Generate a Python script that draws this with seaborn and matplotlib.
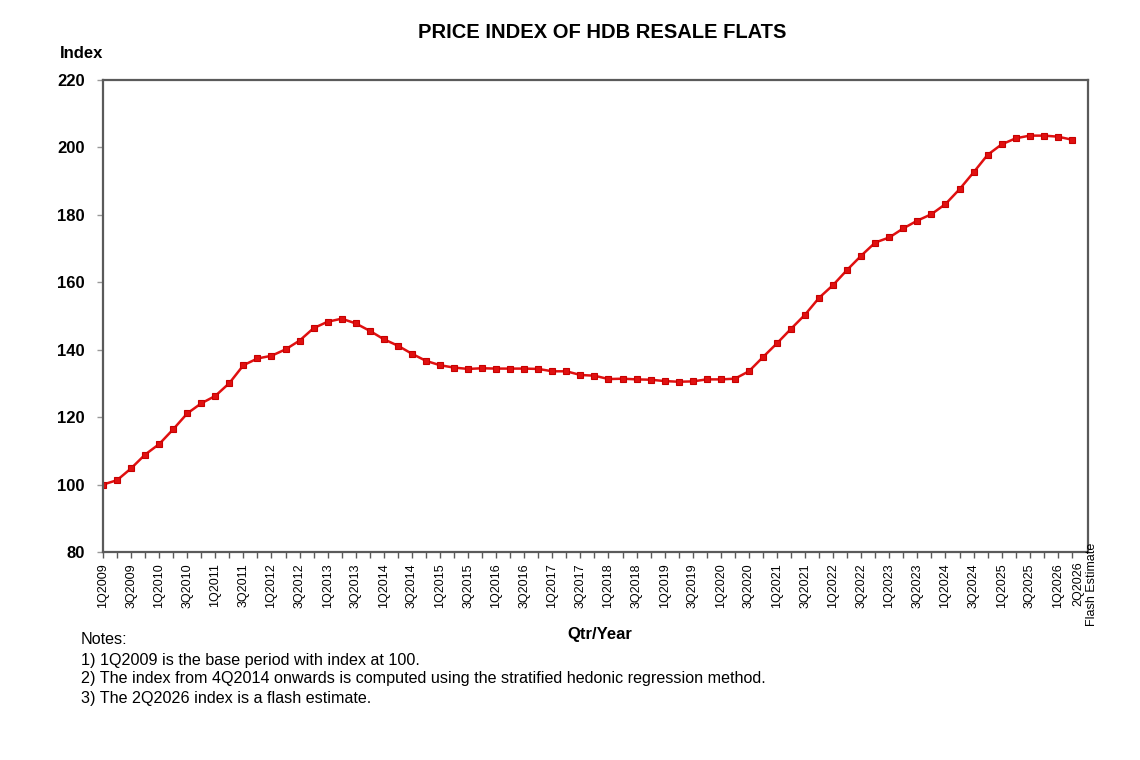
import numpy as np
import pandas as pd
import matplotlib
matplotlib.use('Agg')
import matplotlib.pyplot as plt
import seaborn as sns

# Kuartal 1Q2009 - 2Q2026
quarters = [f"{q}Q{y}" for y in range(2009, 2027) for q in range(1, 5)][:70]

index_values = [
    100.0, 101.3, 104.8, 108.9,   # 2009
    112.0, 116.4, 121.1, 124.1,   # 2010
    126.3, 130.1, 135.4, 137.4,   # 2011
    138.2, 140.1, 142.7, 146.4,   # 2012
    148.3, 149.2, 147.8, 145.6,   # 2013
    143.1, 141.2, 138.8, 136.7,   # 2014
    135.4, 134.7, 134.3, 134.5,   # 2015
    134.4, 134.4, 134.4, 134.3,   # 2016
    133.6, 133.6, 132.5, 132.3,   # 2017
    131.3, 131.4, 131.2, 131.1,   # 2018
    130.7, 130.5, 130.6, 131.2,   # 2019
    131.2, 131.4, 133.6, 137.8,   # 2020
    141.9, 146.2, 150.4, 155.4,   # 2021
    159.2, 163.7, 167.9, 171.8,   # 2022
    173.3, 176.0, 178.3, 180.2,   # 2023
    183.2, 187.6, 192.6, 197.8,   # 2024
    200.9, 202.7, 203.5, 203.5,   # 2025
    203.2, 202.3,                 # 2026
]

y_ticks = [80, 100, 120, 140, 160, 180, 200, 220]

notes = [
    "Notes:",
    "1) 1Q2009 is the base period with index at 100.",
    "2) The index from 4Q2014 onwards is computed using the stratified hedonic regression method.",
    "3) The 2Q2026 index is a flash estimate.",
]

df = pd.DataFrame({'pos': np.arange(len(quarters)), 'quarter': quarters, 'index': index_values})

sns.set_style('white')
plt.rcParams['font.family'] = ['Liberation Sans', 'DejaVu Sans']
plt.rcParams['text.color'] = 'black'
plt.rcParams['xtick.color'] = 'black'
plt.rcParams['ytick.color'] = 'black'

fig = plt.figure(figsize=(11.4, 7.6), dpi=100)
ax = fig.add_axes([103 / 1140, 1 - 552 / 760, (1088 - 103) / 1140, (552 - 80) / 760])

sns.lineplot(data=df, x='pos', y='index', ax=ax, color='#e01010', linewidth=1.8,
             marker='s', markersize=4.8, markeredgecolor='#c80000', markeredgewidth=0.8)

ax.set_xlim(0, 70.15)
ax.set_ylim(80, 220)
ax.set_yticks(y_ticks)
ax.set_yticklabels([str(v) for v in y_ticks], fontsize=12, fontweight='bold')

# label tiap 2 kuartal; label terakhir ditulis terpisah
labels = [q if i % 2 == 0 else '' for i, q in enumerate(quarters)]
ax.set_xticks(df['pos'])
ax.set_xticklabels(labels, rotation=90, fontsize=9)
ax.tick_params(axis='x', length=4, width=1, color='#5a5a5a', pad=4, direction='out', bottom=True)
ax.tick_params(axis='y', length=4, width=1, color='#999999', pad=9, direction='out', left=True)

for s in ax.spines.values():
    s.set_color('#5a5a5a')
    s.set_linewidth(1.6)

ax.set_xlabel('')
ax.set_ylabel('')

last = len(quarters) - 1
ax.annotate(quarters[last], xy=(last, 0), xycoords=('data', 'axes fraction'),
            xytext=(4.5, -7), textcoords='offset points', rotation=90,
            ha='center', va='top', fontsize=9)
ax.annotate('Flash Estimate', xy=(last, 0), xycoords=('data', 'axes fraction'),
            xytext=(14.5, -23), textcoords='offset points', rotation=90,
            ha='center', va='center', fontsize=9)

fig.text(602 / 1140, 1 - 32 / 760, 'PRICE INDEX OF HDB RESALE FLATS', ha='center', va='center',
         fontsize=14.5, fontweight='bold')
fig.text(60 / 1140, 1 - 54 / 760, 'Index', ha='left', va='center', fontsize=12, fontweight='bold')
fig.text(600 / 1140, 1 - 634 / 760, 'Qtr/Year', ha='center', va='center', fontsize=12, fontweight='bold')

note_y = [639, 660, 679, 698]
for txt, yy in zip(notes, note_y):
    fig.text(81 / 1140, 1 - yy / 760, txt, ha='left', va='center', fontsize=11.6)

fig.savefig('out.png', dpi=100, facecolor='white')
